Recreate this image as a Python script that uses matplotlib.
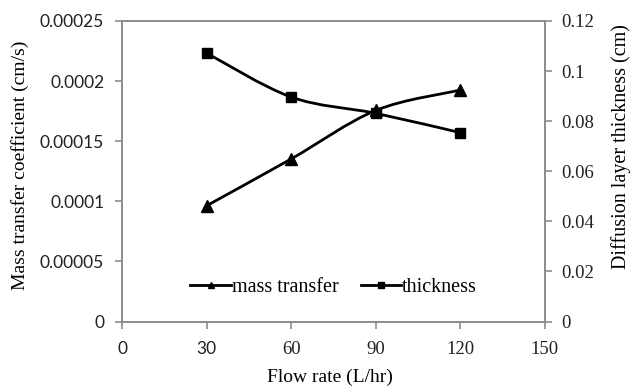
import matplotlib
matplotlib.use("Agg")
import matplotlib.pyplot as plt
import numpy as np
from matplotlib.path import Path
from matplotlib.patches import PathPatch

flow_rate = [30, 60, 90, 120]
mass_transfer = [0.0000964, 0.0001353, 0.0001756, 0.0001925]
thickness = [0.1071, 0.0896, 0.0831, 0.0754]
x_ticks = [0, 30, 60, 90, 120, 150]
left_ticks = [0, 0.00005, 0.0001, 0.00015, 0.0002, 0.00025]
left_labels = ['0', '0.00005', '0.0001', '0.00015', '0.0002', '0.00025']
right_ticks = [0, 0.02, 0.04, 0.06, 0.08, 0.1, 0.12]
right_labels = ['0', '0.02', '0.04', '0.06', '0.08', '0.1', '0.12']

SERIF = ['Liberation Serif', 'DejaVu Serif']
SANS = ['Lato', 'DejaVu Sans']
plt.rcParams['font.family'] = SERIF

def smooth_path(x, y, ax):
    # Excel-style smoothed line (Catmull-Rom as cubic Bezier), in data coords
    x = np.asarray(x, float); y = np.asarray(y, float)
    verts = [(x[0], y[0])]
    codes = [Path.MOVETO]
    n = len(x)
    for i in range(n - 1):
        p0 = (x[i-1], y[i-1]) if i > 0 else (x[i], y[i])
        p1 = (x[i], y[i]); p2 = (x[i+1], y[i+1])
        p3 = (x[i+2], y[i+2]) if i + 2 < n else (x[i+1], y[i+1])
        c1 = (p1[0] + (p2[0]-p0[0])/6, p1[1] + (p2[1]-p0[1])/6)
        c2 = (p2[0] - (p3[0]-p1[0])/6, p2[1] - (p3[1]-p1[1])/6)
        verts += [c1, c2, p2]
        codes += [Path.CURVE4]*3
    ax.add_patch(PathPatch(Path(verts, codes), fill=False, lw=2.0, color='black'))

fig = plt.figure(figsize=(6.3, 3.87), dpi=100)
ax = fig.add_axes([0.194, 0.169, 0.671, 0.777])
ax2 = ax.twinx()

grey = '#8c8c8c'
for a in (ax, ax2):
    for s in a.spines.values():
        s.set_color(grey)
        s.set_linewidth(1.2)
    a.tick_params(direction='out', color=grey, length=5, width=1.2)

ax.set_xlim(0, 150)
ax.set_xticks(x_ticks)
ax.set_xticklabels([str(v) for v in x_ticks])
ax.tick_params(axis='x', pad=9)
for i, t in enumerate(ax.get_xticklabels()):
    if i < 2:
        t.set_family(SANS); t.set_fontsize(12.5)
    else:
        t.set_family(SERIF); t.set_fontsize(13.5)
    t.set_color('#222222')

ax.set_ylim(0, 0.00025)
ax.set_yticks(left_ticks)
ax.set_yticklabels(left_labels, family=SANS, fontsize=12.5, color='#222222')
ax.tick_params(axis='y', pad=8)

ax2.set_ylim(0, 0.12)
ax2.set_yticks(right_ticks)
ax2.set_yticklabels(right_labels, family=SERIF, fontsize=13.5, color='#222222')
ax2.tick_params(axis='y', pad=7)

smooth_path(flow_rate, mass_transfer, ax)
smooth_path(flow_rate, thickness, ax2)
ax.plot(flow_rate, mass_transfer, ls='none', marker='^', ms=8, color='black')
ax2.plot(flow_rate, thickness, ls='none', marker='s', ms=6.5, color='black')

h1, = ax.plot([], [], '-^', color='black', lw=2.0, ms=5, label='mass transfer')
h2, = ax.plot([], [], '-s', color='black', lw=2.0, ms=4.5, label='thickness')
ax.legend(handles=[h1, h2], loc='center', bbox_to_anchor=(0.5, 0.115), ncol=2,
          frameon=False, handlelength=2.0, handletextpad=0.05, columnspacing=1.1,
          prop={'family': SERIF, 'size': 14.5})

fig.text(330/630, 1-377/387, 'Flow rate (L/hr)', ha='center', va='center', fontsize=14)
fig.text(20/630, 1-165/387, 'Mass transfer coefficient (cm/s)', ha='center', va='center',
         rotation=90, fontsize=14)
fig.text(621/630, 1-147/387, 'Diffusion layer thickness (cm)', ha='center', va='center',
         rotation=90, fontsize=14.5)

fig.savefig('out.png', dpi=100)
